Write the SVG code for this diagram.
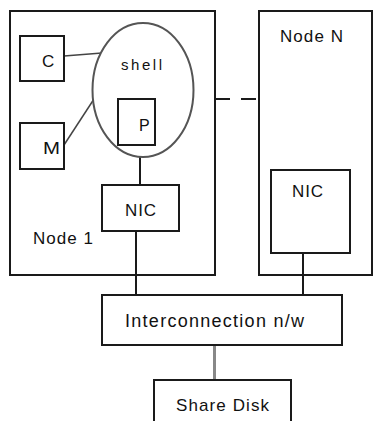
<svg xmlns="http://www.w3.org/2000/svg" width="387" height="421" viewBox="0 0 387 421">
<style>
.box{fill:#fff;stroke:#1a1a1a;stroke-width:2}
.ell{fill:#fff;stroke:#555;stroke-width:2}
.t{font-family:"Liberation Sans",Arial,sans-serif;font-size:17px;fill:#111}
.ln{stroke:#1a1a1a;stroke-width:2;fill:none}
.gl{stroke:#444;stroke-width:1.5;fill:none}
</style>
<rect x="0" y="0" width="387" height="421" fill="#fff"/>
<g id="node1">
<rect class="box" x="10" y="11" width="205" height="264"/>
<text class="t" x="33" y="244" textLength="60" lengthAdjust="spacing">Node 1</text>
</g>
<g id="nodeN">
<rect class="box" x="259" y="11" width="113" height="264"/>
<text class="t" x="280" y="42" textLength="63" lengthAdjust="spacing">Node N</text>
</g>
<g id="connectors">
<line class="gl" x1="64" y1="56" x2="102" y2="53"/>
<line class="gl" x1="64" y1="145" x2="94" y2="99"/>
<line class="ln" x1="140" y1="156" x2="140" y2="185"/>
<line class="ln" x1="136" y1="231" x2="136" y2="295"/>
<line class="ln" x1="303" y1="253" x2="303" y2="295"/>
<line class="ln" x1="215" y1="99" x2="259" y2="99" stroke-dasharray="15 11"/>
<line x1="214.5" y1="345" x2="214.5" y2="380" stroke="#888" stroke-width="3"/>
</g>
<g id="shell">
<ellipse class="ell" cx="143" cy="90" rx="50.5" ry="67"/>
<text class="t" x="121" y="70" style="font-size:15px" textLength="41" lengthAdjust="spacing">shell</text>
</g>
<g id="c">
<rect class="box" x="20" y="36" width="44" height="45"/>
<text class="t" x="42" y="67">C</text>
</g>
<g id="m">
<rect class="box" x="20" y="123" width="44" height="46"/>
<text class="t" x="43" y="154" textLength="17" lengthAdjust="spacingAndGlyphs">M</text>
</g>
<g id="p">
<rect class="box" x="118" y="99" width="37" height="46"/>
<text class="t" x="139" y="131" style="font-size:16px">P</text>
</g>
<g id="nic1">
<rect class="box" x="102" y="185" width="77" height="46"/>
<text class="t" x="125" y="216" textLength="31" lengthAdjust="spacing">NIC</text>
</g>
<g id="nicN">
<rect class="box" x="271" y="170" width="79" height="83"/>
<text class="t" x="292" y="197" textLength="31" lengthAdjust="spacing">NIC</text>
</g>
<g id="interconnection">
<rect class="box" x="102" y="295" width="240" height="50"/>
<text class="t" x="125" y="327" style="font-size:18px" textLength="179" lengthAdjust="spacing">Interconnection n/w</text>
</g>
<g id="sharedisk">
<rect class="box" x="154" y="380" width="137" height="60"/>
<text class="t" x="176" y="411" textLength="93" lengthAdjust="spacing">Share Disk</text>
</g>
</svg>
